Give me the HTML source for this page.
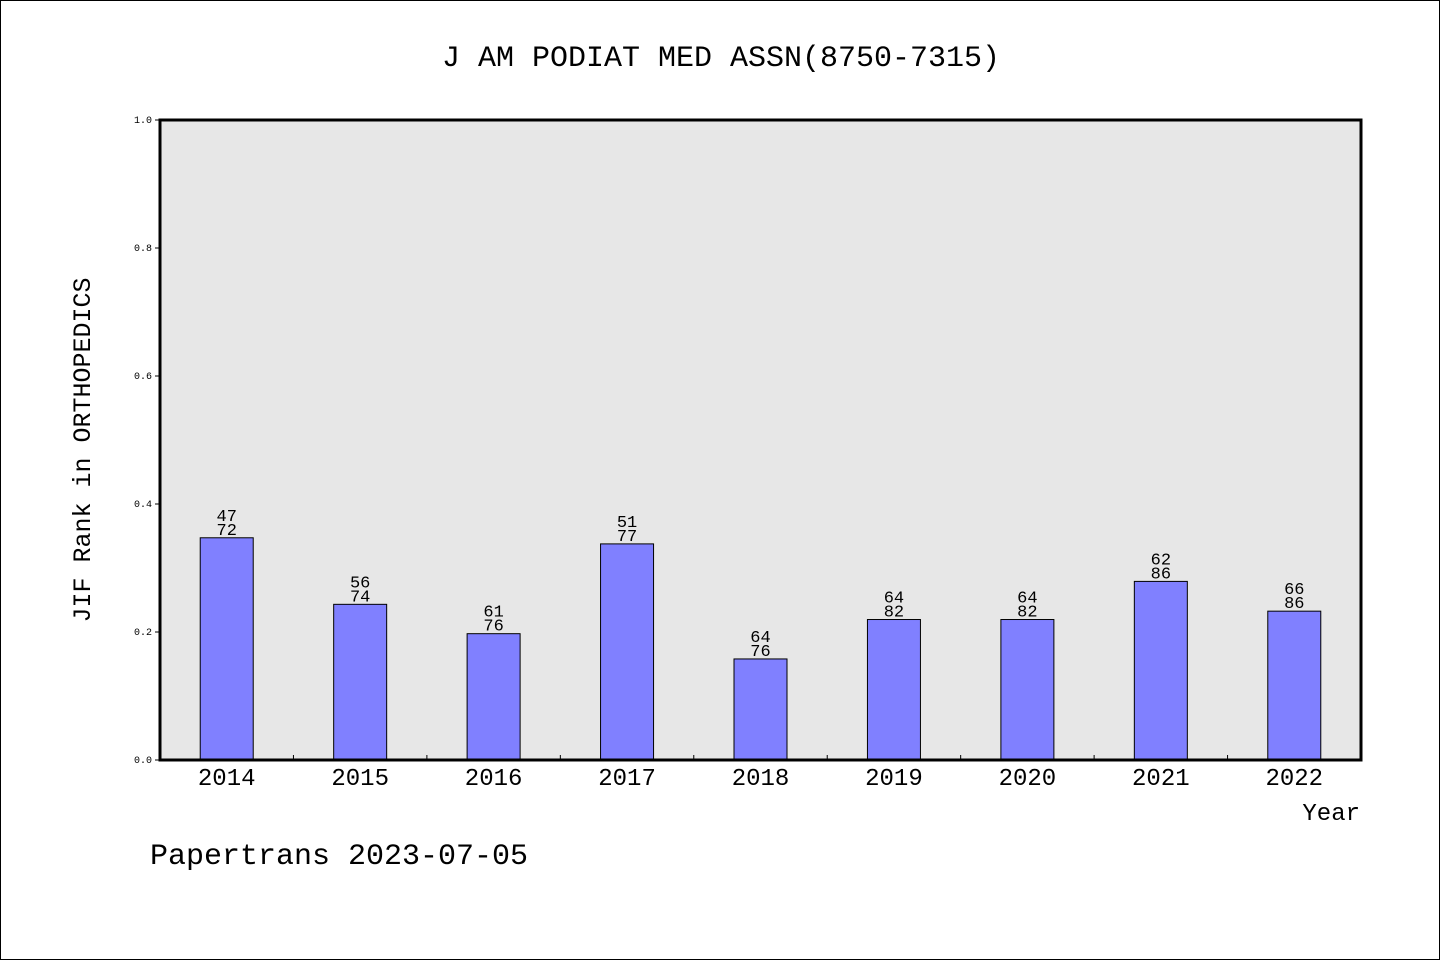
<!DOCTYPE html>
<html><head><meta charset="utf-8"><style>
html,body{margin:0;padding:0;background:#fff}
svg text{font-family:"Liberation Mono","WenQuanYi Zen Hei",monospace;fill:#000}
</style></head><body>
<svg width="1440" height="960" viewBox="0 0 1440 960">
<rect x="0.5" y="0.5" width="1439" height="959" fill="#fff" stroke="#000"/>
<text x="721" y="66" font-size="30" text-anchor="middle">J AM PODIAT MED ASSN(8750-7315)</text>
<rect x="160" y="120" width="1201" height="640" fill="#e7e7e7"/>
<g id="marks"></g>
<rect x="160" y="120" width="1201" height="640" fill="none" stroke="#000" stroke-width="3"/>
<text transform="translate(90,450) rotate(-90)" font-size="25" text-anchor="middle">JIF Rank in ORTHOPEDICS</text>
<text x="1360" y="820" font-size="24" text-anchor="end">Year</text>
<text x="150" y="864" font-size="30">Papertrans 2023-07-05</text>
</svg>
<script>
const years=["2014","2015","2016","2017","2018","2019","2020","2021","2022"];
const ranks=[47,56,61,51,64,64,64,62,66];
const totals=[72,74,76,77,76,82,82,86,86];
const yTicks=["0.0","0.2","0.4","0.6","0.8","1.0"];
const X0=160,W=1201,Y0=760,H=640;
const n=years.length,step=W/n,bw=53;
const xc=i=>X0+(i+0.5)*step;
const y=v=>Y0-v*H;
const g=document.getElementById('marks');
const NS="http://www.w3.org/2000/svg";
function mk(t,a){const e=document.createElementNS(NS,t);for(const k in a)e.setAttribute(k,a[k]);g.appendChild(e);return e;}
yTicks.forEach((t,i)=>{const v=parseFloat(t);
 const l=mk('line',{x1:155,x2:160,y1:y(v),y2:y(v),stroke:'#000'});
 
 
 const tx=mk('text',{x:152,y:y(v)+3,'font-size':10,'text-anchor':'end'});tx.textContent=t;
 
 
});
for(let i=1;i<n;i++){const l=mk('line',{x1:X0+i*step,x2:X0+i*step,y1:755,y2:760,stroke:'#000'});
 
 }
years.forEach((yr,i)=>{
 const v=(totals[i]-ranks[i])/totals[i];
 const r=mk('rect',{x:xc(i)-bw/2,y:y(v),width:bw,height:Y0-y(v),fill:'#8080ff',stroke:'#000','stroke-width':1});
 
 
 const a=mk('text',{x:xc(i),y:y(v)-17,'font-size':17,'text-anchor':'middle'});a.textContent=ranks[i];
 
 
 const b=mk('text',{x:xc(i),y:y(v)-3,'font-size':17,'text-anchor':'middle'});b.textContent=totals[i];
 
 
 const c=mk('text',{x:xc(i),y:785,'font-size':24,'text-anchor':'middle'});c.textContent=yr;
 
 
});
</script>
</body></html>
